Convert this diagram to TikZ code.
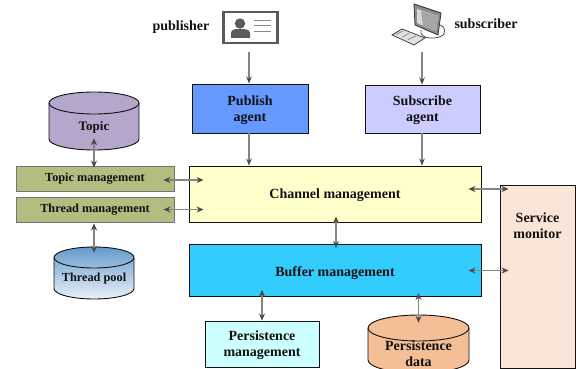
\documentclass[tikz,border=0pt]{standalone}
\usepackage{fontspec}
\setmainfont{Liberation Serif}
\usetikzlibrary{arrows.meta}
\definecolor{inkc}{HTML}{111111}
\definecolor{arrowc}{HTML}{858585}
\definecolor{tipc}{HTML}{4A4A4A}
\definecolor{iconc}{HTML}{5A5A5A}
\definecolor{mgmtc}{HTML}{B2BE80}
\tikzset{
  x=1pt,y=-1pt,
  label text/.style={font=\bfseries\fontsize{14}{16}\selectfont,text=inkc,align=center},
  small text/.style={font=\bfseries\fontsize{12.3}{15}\selectfont,text=inkc,align=center},
  box/.style={draw=inkc,line width=0.9pt,rectangle,inner sep=0pt,label text},
  mgmt/.style={box,draw=black!55,fill=mgmtc,minimum width=158pt,minimum height=25pt,small text},
  drumtext/.style={rectangle,inner sep=0pt,label text},
  link/.style={draw=arrowc,line width=1.2pt},
  one/.style={link,-{Stealth[length=7pt,width=5.5pt,color=tipc]}},
  both/.style={link,{Stealth[length=7pt,width=6pt,color=tipc]}-{Stealth[length=7pt,width=6pt,color=tipc]}},
}
% cx, rx, ytop, ybottom, ry, fill options
\newcommand\drumshape[6]{%
  \pgfmathsetmacro\dL{#1-#2}\pgfmathsetmacro\dR{#1+#2}%
  \pgfmathsetmacro\yT{#3+#5}\pgfmathsetmacro\yB{#4-#5}%
  \pgfmathsetmacro\kx{0.5523*#2}\pgfmathsetmacro\ky{0.5523*#5}%
  \pgfmathsetmacro\cL{#1-\kx}\pgfmathsetmacro\cR{#1+\kx}%
  \pgfmathsetmacro\yBc{\yB+\ky}\pgfmathsetmacro\yTu{\yT-\ky}\pgfmathsetmacro\yTd{\yT+\ky}\pgfmathsetmacro\yTb{\yT+#5}%
  \path[#6,draw=inkc,line width=0.9pt] (\dL,\yT) -- (\dL,\yB) .. controls (\dL,\yBc) and (\cL,#4) .. (#1,#4) .. controls (\cR,#4) and (\dR,\yBc) .. (\dR,\yB) -- (\dR,\yT) .. controls (\dR,\yTu) and (\cR,#3) .. (#1,#3) .. controls (\cL,#3) and (\dL,\yTu) .. (\dL,\yT) -- cycle;
  \draw[inkc,line width=0.9pt] (\dL,\yT) .. controls (\dL,\yTd) and (\cL,\yTb) .. (#1,\yTb) .. controls (\cR,\yTb) and (\dR,\yTd) .. (\dR,\yT);
}
\begin{document}
\begin{tikzpicture}
\useasboundingbox (0,0) rectangle (576,369);
% boxes
\node[box,fill={rgb,255:red,102;green,153;blue,255},minimum width=116pt,minimum height=49pt] (pa) at (250,108.5) {\rule{0pt}{12.6pt}Publish\\agent};
\node[box,fill={rgb,255:red,204;green,204;blue,255},minimum width=115pt,minimum height=48pt] (sa) at (422.5,109) {\rule{0pt}{11.6pt}Subscribe\\agent};
\node[box,fill={rgb,255:red,255;green,255;blue,204},minimum width=292pt,minimum height=56pt] (ch) at (335,194) {\rule{0pt}{11.6pt}Channel management};
\node[box,fill={rgb,255:red,51;green,204;blue,255},minimum width=292pt,minimum height=52pt] (bu) at (335,270.5) {\rule{0pt}{15.6pt}Buffer management};
\node[box,fill={rgb,255:red,204;green,255;blue,255},minimum width=114pt,minimum height=46pt] (pm) at (262,344) {\rule{0pt}{11.6pt}Persistence\\management};
\node[box,fill={rgb,255:red,251;green,229;blue,216},minimum width=75pt,minimum height=183pt] (sm) at (537.5,276.5) {};
\node[label text] (smt) at (537.5,226) {Service\\monitor};
\node[mgmt] (tm) at (95,178.5) {\raisebox{2pt}{Topic management}};
\node[mgmt] (th) at (95,209.5) {\raisebox{2pt}{Thread management}};
% drums
\drumshape{94}{45}{92}{150}{11}{fill={rgb,255:red,181;green,166;blue,204}}
\drumshape{94}{40}{247}{299}{10.5}{top color={rgb,255:red,100;green,155;blue,205},bottom color={rgb,255:red,235;green,240;blue,247}}
\drumshape{418.5}{50.5}{315}{373}{13}{fill={rgb,255:red,244;green,190;blue,150}}
\node[drumtext,font=\bfseries\fontsize{13}{15}\selectfont,minimum width=90pt,minimum height=58pt] (td) at (94,121) {\rule{0pt}{21pt}Topic};
\node[drumtext,small text,minimum width=80pt,minimum height=52pt] (tp) at (94,273) {\rule{0pt}{19pt}Thread pool};
\node[drumtext,minimum width=101pt,minimum height=58pt] (pd) at (418.5,344) {\rule{0pt}{29pt}Persistence\\data};
% actor labels
\node[label text] (publab) at (181,27) {publisher};
\node[label text] (sublab) at (486,24) {subscriber};
% publisher icon
\node[draw=iconc,line width=2.6pt,fill=white,minimum width=54pt,minimum height=31pt,inner sep=0pt] (card) at (250.5,27.5) {};
\fill[iconc] (240,23.5) circle (5.2);
\fill[iconc] (231,38) -- (231,33) .. controls (231,29) and (236,29) .. (240,29) .. controls (244,29) and (250,29) .. (250,33) -- (250,38) -- cycle;
\draw[iconc!70,line width=1pt] (254,21) -- (271,21) (254,26) -- (271,26) (254,32) -- (271,32);
% subscriber icon
\draw[black!70,line width=0.8pt,fill=white] (421,30) .. controls (418,40) and (440,40) .. (444,34) .. controls (446,29) and (443,26) .. (440,25);
\draw[black!80,line width=0.8pt,fill=black!45] (414,4) -- (441,13) -- (438,35) -- (415,25) -- cycle;
\fill[black!15] (417,9) -- (438,16) -- (436,31) -- (417,23) -- cycle;
\fill[black!35] (421,11) -- (438,16) -- (436,31) -- (423,26) -- cycle;
\draw[black!80,line width=0.7pt,fill=black!12] (392,35) -- (402,29) -- (425,38) -- (414,45) -- cycle;
\draw[black!55,line width=0.6pt] (396,34.5) -- (403,31) (402,37) -- (409,33.5) (408,39.5) -- (416,36);
\coordinate (pubfoot) at (249,52);
\coordinate (subfoot) at (422,52);
% connectors
\draw[one] (pubfoot) -- (pubfoot |- pa.north);
\draw[one] (subfoot) -- (subfoot |- sa.north);
\draw[one] (pa.south -| pubfoot) -- (ch.north -| pubfoot);
\draw[one] (sa.south -| subfoot) -- (ch.north -| subfoot);
\draw[both] ([yshift=12pt]td.south) -- ([yshift=-2pt]td.south |- tm.north);
\draw[both] ([yshift=-1pt]tp.north |- th.south) -- ([yshift=-6pt]tp.north);
\draw[both] ([shift={(-11pt,-1.5pt)}]tm.east) -- ([shift={(15pt,-1.5pt)}]tm.east -| ch.west);
\draw[both] ([xshift=-11pt]th.east) -- ([xshift=15pt]th.east -| ch.west);
\draw[both] ([shift={(1pt,6pt)}]ch.south) -- ([shift={(1pt,-4pt)}]bu.north);
\draw[both] ([shift={(-13pt,5pt)}]ch.east) -- ([shift={(9pt,5pt)}]ch.east -| sm.west);
\draw[both] ([xshift=-13pt]bu.east) -- ([xshift=9pt]bu.east -| sm.west);
\draw[both] ([yshift=7pt]bu.south -| pm.north) -- (pm.north);
\draw[both] ([yshift=4pt]bu.south -| pd.north) -- ([yshift=-8pt]pd.north);
\end{tikzpicture}
\end{document}
